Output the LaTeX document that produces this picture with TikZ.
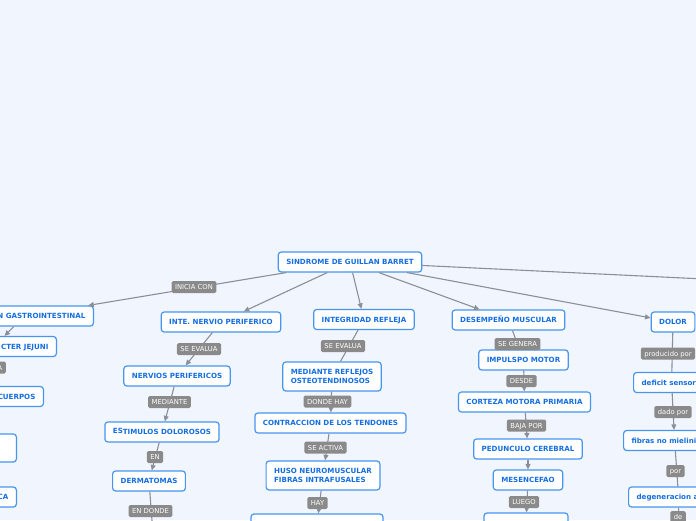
\documentclass[tikz,border=0pt]{standalone}
\usepackage{fontspec}
\setmainfont{DejaVu Sans}
\usetikzlibrary{arrows.meta}
\definecolor{bgblue}{RGB}{241,245,254}
\definecolor{topicline}{RGB}{70,150,240}
\definecolor{topictext}{RGB}{20,110,225}
\definecolor{tagfill}{RGB}{138,138,138}
\definecolor{branchgray}{RGB}{140,143,150}

\begin{document}
\begin{tikzpicture}[x=1pt,y=-1pt,
  topic/.style={draw=topicline,fill=white,line width=1.2pt,rounded corners=3pt,
    text=topictext,font=\fontsize{7.1}{8.7}\selectfont\bfseries,
    inner xsep=8pt,inner ysep=2pt,minimum height=20pt,text height=5.2pt,text depth=0pt},
  twoline/.style={topic,text height=,text depth=,align=left,minimum height=29pt},
  tag/.style={fill=tagfill,text=white,rounded corners=1.5pt,
    font=\fontsize{6.8}{8}\selectfont,inner xsep=3.5pt,inner ysep=1pt,
    minimum height=12pt,text height=5pt,text depth=0pt},
  branch/.style={draw=branchgray,line width=1.1pt},
  branchto/.style={branch,-{Triangle[length=5.5pt,width=5pt]}}]
  \useasboundingbox (0,0) rectangle (696,520);
  \fill[bgblue] (0,0) rectangle (696,520);
  \clip (0,0) rectangle (696,520);

  % main topics
  \foreach \n/\x/\y/\t in {
    root/350/262/SINDROME DE GUILLAN BARRET,
    inte/221/322/INTE. NERVIO PERIFERICO,
    nervios/177/376/NERVIOS PERIFERICOS,
    estim/162/432/{\raisebox{1.3pt}{ES}TIMULOS DOLOROSOS},
    derma/149/481/DERMATOMAS,
    integ/364/319.5/INTEGRIDAD REFLEJA,
    contra/330.5/423/CONTRACCION DE LOS TENDONES,
    desem/508.5/320/DESEMPEÑO MUSCULAR,
    impul/523.5/360/IMPULSPO MOTOR,
    corteza/524.5/402/CORTEZA MOTORA PRIMARIA,
    pedun/528/449/PEDUNCULO CEREBRAL,
    mesen/528/480/MESENCEFAO,
    dolor/673/322/DOLOR} {
    \node[topic] (\n) at (\x,\y) {\t};
  }
  \node[twoline] (reflejos) at (332,376.5) {MEDIANTE REFLEJOS\\OSTEOTENDINOSOS};
  \node[twoline] (huso) at (323,475.5) {HUSO NEUROMUSCULAR\\FIBRAS INTRAFUSALES};
  \node[topic,minimum width=132pt] (hbottom) at (317,524) {};
  \node[topic,minimum width=84pt] (mbottom) at (526,523) {};

  % cut at the left edge
  \node[topic,anchor=east] (gastro) at (94,316) {\makebox[122pt][r]{N GASTROINTESTINAL}};
  \node[topic,anchor=east] (cjejuni) at (57,346.5) {\makebox[109pt][r]{CTER JEJUNI}};
  \node[topic,anchor=east] (cuerpos) at (44,396.5) {\makebox[104pt][r]{CUERPOS}};
  \node[topic,anchor=east,minimum width=114pt,minimum height=28pt] (leftbox) at (17,448) {};
  \node[topic,anchor=east] (ca) at (17,497) {\makebox[100pt][r]{CA}};

  % cut at the right edge
  \node[topic,anchor=west] (deficit) at (633,382.5) {\makebox[60pt][l]{deficit sensori}};
  \node[topic,anchor=west] (fibras) at (623,440.5) {\makebox[86pt][l]{fibras no mielini}};
  \node[topic,anchor=west] (degen) at (628,497) {\makebox[84pt][l]{degeneracion a}};

  \coordinate (offright) at (900,288.4);
  \coordinate (dbelow) at (155,560);
  \coordinate (gbelow) at (679,560);

  % connectors
  \foreach \a/\b in {root/gastro, root/inte, root/integ, root/desem, root/dolor,
    gastro/cjejuni, inte/nervios, nervios/estim, estim/derma,
    reflejos/contra, contra/huso, huso/hbottom,
    impul/corteza, corteza/pedun, pedun/mesen, mesen/mbottom, deficit/fibras}
    \draw[branchto] (\a) -- (\b);
  \foreach \a/\b in {root/offright, integ/reflejos, desem/impul, dolor/deficit,
    fibras/degen, derma/dbelow, degen/gbelow, cjejuni/cuerpos}
    \draw[branch] (\a) -- (\b);

  % tags on the connectors
  \foreach \n/\x/\y/\t in {
    t1/194/287/INICIA CON,
    t2/199/349/SE EVALUA,
    t3/169.5/402/MEDIANTE,
    t4/155/457/EN,
    t5/150.5/511/EN DONDE,
    t6/343/346/SE EVALUA,
    t7/327.5/401.5/DONDE HAY,
    t8/325.5/447.5/SE ACTIVA,
    t9/317.5/503/HAY,
    t10/517.5/344/SE GENERA,
    t11/521.5/381/DESDE,
    t12/526.5/425.5/BAJA POR,
    t13/524/502/LUEGO,
    t14/668/353.5/producido por,
    t15/673/412/dado por,
    t16/675.5/471/por,
    t17/678/517/de} {
    \node[tag] (\n) at (\x,\y) {\t};
  }
  \node[tag,anchor=east] (t0) at (6,367.5) {\makebox[24pt][r]{A}};
\end{tikzpicture}
\end{document}
